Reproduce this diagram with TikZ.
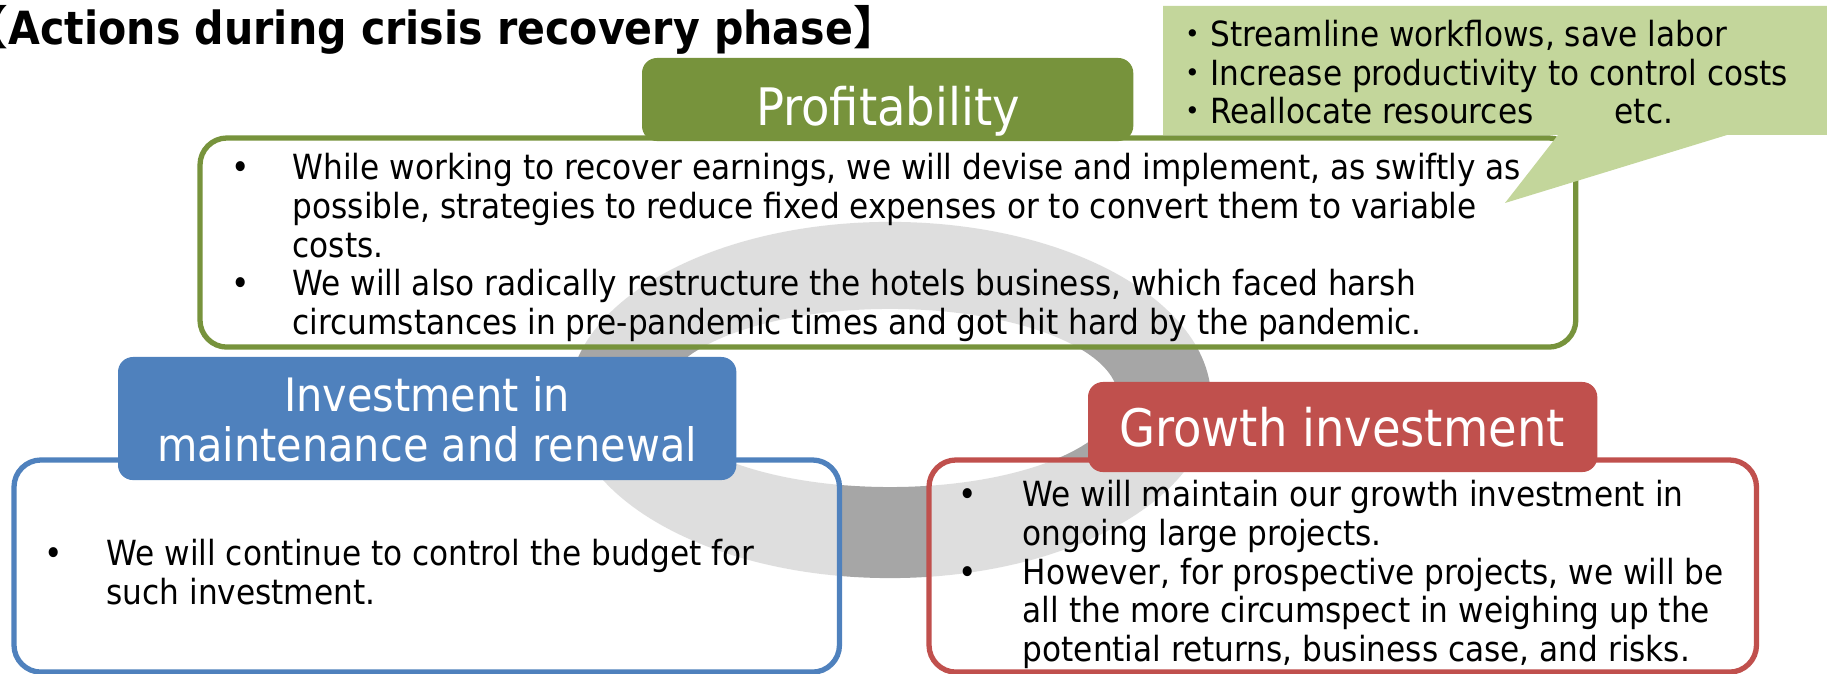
\documentclass[tikz,border=0pt]{standalone}
\usepackage{fontspec}
\setmainfont{DejaVu Sans Condensed}
\newfontfamily\cjk{Noto Sans CJK JP}
\definecolor{olivegreen}{HTML}{77933C}
\definecolor{palegreen}{HTML}{C3D69B}
\definecolor{steelblue}{HTML}{4F81BD}
\definecolor{brickred}{HTML}{C0504D}
\definecolor{ringgray}{HTML}{A6A6A6}
\newcommand\bodyfont{\fontsize{9.85}{10.95}\selectfont}
\newcommand\headfont{\fontsize{14.7}{14.2}\selectfont}
\newcommand\smallheadfont{\fontsize{13.1}{14.2}\selectfont}
\begin{document}
\begin{tikzpicture}[x=0.01cm, y=-0.01cm,
  panel/.style={draw=#1, line width=1.5pt, fill=white, fill opacity=0.64,
    rounded corners=0.27cm, anchor=north west, inner sep=0pt, outer sep=0pt},
  tab/.style={fill=#1, rounded corners=0.15cm, anchor=north west,
    inner sep=0pt, outer sep=0pt},
  tabtext/.style={text=white, font=\headfont, inner sep=0pt},
  body/.style={font=\bodyfont, anchor=base west, inner sep=0pt},
]
\useasboundingbox (0,0) rectangle (1827,674);

% grey cycle ring behind the three panels
\fill[ringgray, even odd rule]
  (890,400) ellipse [x radius=3.21cm, y radius=1.78cm]
  (890,398) ellipse [x radius=2.28cm, y radius=0.89cm];

% title
\node[anchor=base west, inner sep=0pt,
      font={\bfseries\fontsize{13}{15}\selectfont}] (title) at (8,45)
  {\llap{{\cjk\bfseries 【}}Actions during crisis recovery phase{\cjk\bfseries 】}};

% profitability panel
\node[panel=olivegreen, minimum width=13.75cm, minimum height=2.09cm] (profit) at (200,138) {};
\node[tab=olivegreen, minimum width=4.91cm, minimum height=0.83cm] (profittab) at (642,58) {};
\node[tabtext, anchor=base] (profittitle) at (888,126) {Profitability};
\node[body] (profittext) at (231,180) {%
  \begin{tabular}[t]{@{}p{0.61cm}@{}l@{}}
  \textbullet & While working to recover earnings, we will devise and implement, as swiftly as\\
   & possible, strategies to reduce fixed expenses or to convert them to variable\\
   & costs.\\
  \textbullet & We will also radically restructure the hotels business, which faced harsh\\
   & circumstances in pre-pandemic times and got hit hard by the pandemic.
  \end{tabular}};

% callout with cost measures
\fill[palegreen] (1163,6) -- (1830,6) -- (1830,135) -- (1727,135)
  -- (1505,203) coordinate (calloutTip) -- (1558,135) -- (1163,135) -- cycle;
\node[body] (callouttext) at (1175,47) {%
  \begin{tabular}[t]{@{}l@{}}
  {\cjk ・}Streamline workflows, save labor\\
  {\cjk ・}Increase productivity to control costs\\
  {\cjk ・}\makebox[4.04cm][l]{Reallocate resources}etc.
  \end{tabular}};

% maintenance and renewal panel
\node[panel=steelblue, minimum width=8.25cm, minimum height=2.12cm] (maint) at (14,460) {};
\node[tab=steelblue, minimum width=6.18cm, minimum height=1.23cm] (mainttab) at (118,357) {};
\node[tabtext, font=\smallheadfont, anchor=base] (mainttitle) at (427,412) {%
  \begin{tabular}[t]{@{}c@{}}Investment in\\ maintenance and renewal\end{tabular}};
\node[body] (mainttext) at (44,566) {%
  \begin{tabular}[t]{@{}p{0.62cm}@{}l@{}}
  \textbullet & We will continue to control the budget for\\
   & such investment.
  \end{tabular}};

% growth investment panel
\node[panel=brickred, minimum width=8.27cm, minimum height=2.12cm] (growth) at (929,460) {};
\node[tab=brickred, minimum width=5.09cm, minimum height=0.90cm] (growthtab) at (1088,382) {};
\node[tabtext, anchor=base] (growthtitle) at (1342,447) {Growth investment};
\node[body] (growthtext) at (958,507) {%
  \begin{tabular}[t]{@{}p{0.64cm}@{}l@{}}
  \textbullet & We will maintain our growth investment in\\
   & ongoing large projects.\\
  \textbullet & However, for prospective projects, we will be\\
   & all the more circumspect in weighing up the\\
   & potential returns, business case, and risks.
  \end{tabular}};
\end{tikzpicture}
\end{document}
